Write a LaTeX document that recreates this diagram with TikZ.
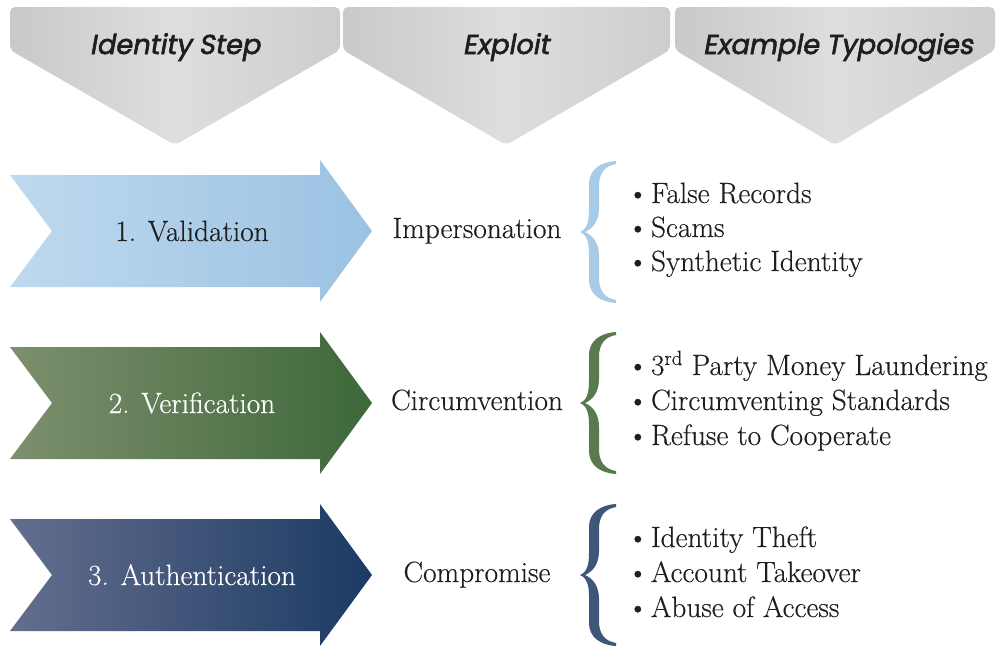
\documentclass[tikz,border=0pt]{standalone}
\usepackage{fontspec}
\setmainfont{Latin Modern Roman}[FakeBold=0.35]
\newfontfamily\hdrf{Poppins}[FakeSlant=0.18,FakeBold=2.2]
\definecolor{hdrL}{HTML}{C9C9CB}
\definecolor{hdrM}{HTML}{DEDEE0}
\definecolor{hdrR}{HTML}{CDCDCF}
\definecolor{blueL}{HTML}{BED9EE}
\definecolor{blueR}{HTML}{9BC2E3}
\definecolor{greenL}{HTML}{7D8F6E}
\definecolor{greenR}{HTML}{3D6839}
\definecolor{navyL}{HTML}{646E8E}
\definecolor{navyR}{HTML}{1B3A63}
\definecolor{blueBr}{HTML}{A8CBE8}
\definecolor{greenBr}{HTML}{587A4C}
\definecolor{navyBr}{HTML}{3F5678}
\definecolor{txt}{HTML}{1E1E1E}
\newcommand\hdrfont{\hdrf\fontsize{20.5}{24}\selectfont}
\newcommand\bodyfont{\fontsize{22}{26}\selectfont}
\begin{document}
\begin{tikzpicture}[x=0.75pt,y=-0.75pt,
  hdrbox/.style={left color=hdrL,right color=hdrR,middle color=hdrM,rounded corners=4pt},
  hdr/.style={anchor=base,font=\hdrfont,text=txt,inner sep=0pt},
  steplbl/.style={anchor=base,font=\bodyfont,inner sep=0pt},
  exlbl/.style={anchor=base,font=\bodyfont,text=txt,inner sep=0pt},
  itm/.style={anchor=base west,font=\bodyfont,text=txt,inner sep=0pt},
  curlyb/.pic={\fill[#1] (0,0) .. controls (7,-3) and (9,-10) .. (9,-22) -- (9,-48)
      .. controls (9,-62) and (20,-70) .. (36,-71) -- (36,-68)
      .. controls (24,-66) and (19,-58) .. (19,-46) -- (19,-24)
      .. controls (19,-10) and (12,-3) .. (5,0)
      .. controls (12,3) and (19,10) .. (19,24) -- (19,46)
      .. controls (19,58) and (24,66) .. (36,68) -- (36,71)
      .. controls (20,70) and (9,62) .. (9,48) -- (9,22)
      .. controls (9,10) and (7,3) .. (0,0) -- cycle;}
]
\useasboundingbox[fill=white] (0,0) rectangle (997,647);
% headers
\shade[hdrbox] (10,7) -- (340,7) -- (340,50) -- (175,145) -- (10,50) -- cycle;
\shade[hdrbox] (343,7) -- (670,7) -- (670,50) -- (506,145) -- (343,50) -- cycle;
\shade[hdrbox] (675,7) -- (995,7) -- (995,50) -- (835,145) -- (675,50) -- cycle;
\node[hdr] (h1) at (175,54) {Identity Step};
\node[hdr] (h2) at (506,54) {Exploit};
\node[hdr] (h3) at (838,54) {Example Typologies};
% arrows
\foreach \c/\cl/\cr in {231/blueL/blueR,403/greenL/greenR,575/navyL/navyR}{
  \shade[left color=\cl,right color=\cr] (10,\c-56) -- (320,\c-56) -- (320,\c-71) -- (372,\c)
     -- (320,\c+71) -- (320,\c+56) -- (10,\c+56) -- (52,\c) -- cycle;
}
\node[steplbl,text=txt] (s1) at (192,241) {1. Validation};
\node[steplbl,text=white] (s2) at (192,413) {2. Verification};
\node[steplbl,text=white] (s3) at (192,585) {3. Authentication};
% exploits
\node[exlbl] (e1) at (477,238) {Impersonation};
\node[exlbl] (e2) at (477,410) {Circumvention};
\node[exlbl] (e3) at (477,582) {Compromise};
% braces
\pic at (580,232) {curlyb=blueBr};
\pic at (580,403) {curlyb=greenBr};
\pic at (580,575) {curlyb=navyBr};
% items
\node[itm] (t11) at (627,203) {\textbullet\hspace{2pt}False Records};
\node[itm] (t12) at (627,237) {\textbullet\hspace{2pt}Scams};
\node[itm] (t13) at (627,271) {\textbullet\hspace{2pt}Synthetic Identity};
\node[itm] (t21) at (627,375) {\textbullet\hspace{2pt}3\textsuperscript{rd} Party Money Laundering};
\node[itm] (t22) at (627,410) {\textbullet\hspace{2pt}Circumventing Standards};
\node[itm] (t23) at (627,445) {\textbullet\hspace{2pt}Refuse to Cooperate};
\node[itm] (t31) at (627,547) {\textbullet\hspace{2pt}Identity Theft};
\node[itm] (t32) at (627,582) {\textbullet\hspace{2pt}Account Takeover};
\node[itm] (t33) at (627,617) {\textbullet\hspace{2pt}Abuse of Access};
\end{tikzpicture}
\end{document}
